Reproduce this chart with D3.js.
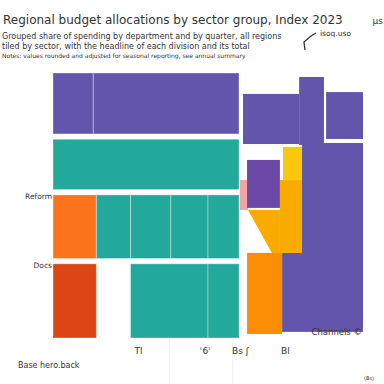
<!DOCTYPE html>
<html>
<head>
<meta charset="utf-8">
<script src="https://cdn.jsdelivr.net/npm/d3@7"></script>
<style>
  body { margin: 0; background: #fff; }
  text { font-family: "DejaVu Sans", sans-serif; fill: #333; }
</style>
</head>
<body>
<div id="chart"></div>
<script>
// rows of the left mosaic (widths in x units, heights in y units)
var rowNames = ["", "", "Reform", "Docs"];
var rowHeights = [23, 19, 24, 28];
var rowSegments = [[13, 47], [60], [14, 11, 13, 12, 10], [14, 11, 25, 10]];
var rowColors = [["p", "p"], ["t"], ["o", "t", "t", "t", "t"], ["r", null, "t", "t"]];

// right hand block
var rightRects = [
  {x0: 61.3, x1: 79.4, y0: 7.9, y1: 26.8, c: "p"},
  {x0: 79.4, x1: 87.4, y0: 1.5, y1: 27.2, c: "p"},
  {x0: 88.1, x1: 100, y0: 7.2, y1: 24.9, c: "p"},
  {x0: 80.3, x1: 100, y0: 26.4, y1: 68, c: "p"},
  {x0: 73.9, x1: 100, y0: 67.9, y1: 97.7, c: "p"},
  {x0: 60.3, x1: 62.9, y0: 40.4, y1: 51.7, c: "k"},
  {x0: 74.2, x1: 80.3, y0: 27.9, y1: 40.4, c: "y"},
  {x0: 73.2, x1: 80.3, y0: 40.4, y1: 67.9, c: "a"},
  {x0: 62.6, x1: 73.9, y0: 67.9, y1: 98.5, c: "n"},
  {x0: 62.6, x1: 73.2, y0: 32.8, y1: 50.9, c: "v"}
];
var wedge = [[62.9, 51.7], [73.2, 51.7], [73.2, 67.9], [70.6, 67.9]];

var tickVals = [27.4, 49, 60.3, 74.8];
var tickLabels = ["Tl", "\u02bf6\u02be", "Bs \u0283", "Bl"];

var colors = {
  p: "#6355ab", t: "#22a99b", o: "#fb741c", r: "#dc4614",
  y: "#f9c80c", a: "#f9ab00", n: "#fb8e04", k: "#f2a3a6", v: "#6c48a8"
};

var width = 384, height = 384;
var x = d3.scaleLinear().domain([0, 100]).range([53, 363]);
var y = d3.scaleLinear().domain([0, 100]).range([73, 338]);

var svg = d3.select("#chart").append("svg")
  .attr("width", width)
  .attr("height", height);

// faint grid lines at the bottom
svg.selectAll("line.grid")
  .data([37.5, 58])
  .enter().append("line")
  .attr("x1", function(d) { return x(d); })
  .attr("x2", function(d) { return x(d); })
  .attr("y1", y(100))
  .attr("y2", height)
  .attr("stroke", "#eee");

// left mosaic
var rowY = [];
var acc = 0;
rowHeights.forEach(function(h) { rowY.push(acc); acc += h + 2; });

var cells = [];
rowSegments.forEach(function(segs, i) {
  var cx = 0;
  segs.forEach(function(w, j) {
    if (rowColors[i][j]) {
      cells.push({x0: cx, x1: cx + w, y0: rowY[i], y1: rowY[i] + rowHeights[i], c: rowColors[i][j]});
    }
    cx += w;
  });
});

svg.append("g").selectAll("rect")
  .data(cells)
  .enter().append("rect")
  .attr("x", function(d) { return x(d.x0); })
  .attr("y", function(d) { return y(d.y0); })
  .attr("width", function(d) { return x(d.x1) - x(d.x0); })
  .attr("height", function(d) { return y(d.y1) - y(d.y0); })
  .attr("fill", function(d) { return colors[d.c]; })
  .attr("stroke", "rgba(255,255,255,0.35)")
  .attr("stroke-width", 1);

svg.append("g").selectAll("rect")
  .data(rightRects)
  .enter().append("rect")
  .attr("x", function(d) { return x(d.x0); })
  .attr("y", function(d) { return y(d.y0); })
  .attr("width", function(d) { return x(d.x1) - x(d.x0); })
  .attr("height", function(d) { return y(d.y1) - y(d.y0); })
  .attr("fill", function(d) { return colors[d.c]; });

svg.append("polygon")
  .attr("points", wedge.map(function(p) { return x(p[0]) + "," + y(p[1]); }).join(" "))
  .attr("fill", colors.a);

// row labels
svg.append("g").selectAll("text")
  .data(rowNames)
  .enter().append("text")
  .attr("x", 52)
  .attr("y", function(d, i) { return y(rowY[i]) + 4; })
  .attr("text-anchor", "end")
  .attr("font-size", 7.5)
  .text(function(d) { return d; });

// bottom axis
var axis = svg.append("g")
  .attr("transform", "translate(0," + y(100) + ")")
  .call(d3.axisBottom(x).tickValues(tickVals).tickSize(0).tickPadding(10)
    .tickFormat(function(d, i) { return tickLabels[i]; }));
axis.select(".domain").remove();
axis.selectAll("text").attr("font-size", 9).attr("fill", "#444");

// titles
svg.append("text").attr("x", 3).attr("y", 24).attr("font-size", 12)
  .text("Regional budget allocations by sector group, Index 2023");
svg.append("text").attr("x", 383).attr("y", 24).attr("text-anchor", "end").attr("font-size", 9).text("\u00b5s");
svg.append("text").attr("x", 2).attr("y", 39).attr("font-size", 8)
  .text("Grouped share of spending by department and by quarter, all regions");
svg.append("text").attr("x", 2).attr("y", 49).attr("font-size", 8)
  .text("tiled by sector, with the headline of each division and its total");
svg.append("text").attr("x", 2).attr("y", 58).attr("font-size", 6)
  .attr("fill", "#777")
  .text("Notes: values rounded and adjusted for seasonal reporting, see annual summary");
svg.append("text").attr("x", 320).attr("y", 36).attr("font-size", 7.5).text("isoq.uso");
svg.append("path")
  .attr("d", "M305,50 L304,42 L311,36 L316,33")
  .attr("fill", "none").attr("stroke", "#333").attr("stroke-width", 1.3);

svg.append("text").attr("x", 362).attr("y", 335).attr("text-anchor", "end").attr("font-size", 8.5)
  .text("Channels \u00a9");
svg.append("text").attr("x", 18).attr("y", 368).attr("font-size", 8).attr("fill", "#666")
  .text("Base hero.back");
svg.append("text").attr("x", 374).attr("y", 380).attr("text-anchor", "end").attr("font-size", 5).attr("fill", "#888")
  .text("(Bs)");
</script>
</body>
</html>
